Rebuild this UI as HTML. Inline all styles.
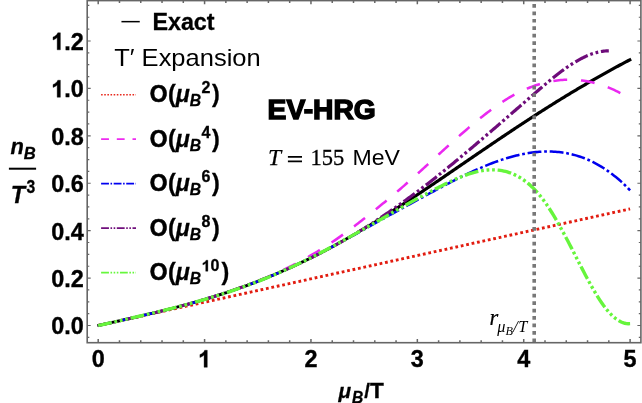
<!DOCTYPE html><html><head><meta charset="utf-8"><title>EV-HRG</title>
<style>html,body{margin:0;padding:0;background:#fff;}svg{display:block;will-change:transform;}text{font-family:"Liberation Sans",sans-serif;}.b{font-weight:bold;}.i{font-style:italic;}.se{font-family:"Liberation Serif",serif;}</style></head><body>
<svg width="642" height="403" viewBox="0 0 642 403">
<rect x="0" y="0" width="642" height="403" fill="#ffffff"/>
<defs><clipPath id="c"><rect x="87.2" y="0.6" width="553.7" height="342.1"/></clipPath></defs>
<g fill="none" stroke-width="3.20" clip-path="url(#c)">
<path d="M97.35 325.69 L98.69 325.39 L100.02 325.10 L101.36 324.81 L102.70 324.51 L104.04 324.22 L105.38 323.93 L106.71 323.63 L108.05 323.34 L109.39 323.04 L110.73 322.75 L112.07 322.45 L113.40 322.16 L114.74 321.86 L116.08 321.57 L117.42 321.27 L118.76 320.97 L120.09 320.68 L121.43 320.38 L122.77 320.08 L124.11 319.78 L125.44 319.48 L126.78 319.18 L128.12 318.88 L129.46 318.58 L130.80 318.27 L132.13 317.97 L133.47 317.66 L134.81 317.36 L136.15 317.05 L137.49 316.75 L138.82 316.44 L140.16 316.13 L141.50 315.82 L142.84 315.51 L144.17 315.19 L145.51 314.88 L146.85 314.57 L148.19 314.25 L149.53 313.93 L150.86 313.61 L152.20 313.29 L153.54 312.97 L154.88 312.65 L156.22 312.33 L157.55 312.00 L158.89 311.67 L160.23 311.35 L161.57 311.02 L162.91 310.68 L164.24 310.35 L165.58 310.02 L166.92 309.68 L168.26 309.34 L169.59 309.00 L170.93 308.66 L172.27 308.32 L173.61 307.97 L174.95 307.62 L176.28 307.28 L177.62 306.93 L178.96 306.57 L180.30 306.22 L181.64 305.86 L182.97 305.50 L184.31 305.14 L185.65 304.78 L186.99 304.41 L188.32 304.05 L189.66 303.68 L191.00 303.30 L192.34 302.93 L193.68 302.55 L195.01 302.18 L196.35 301.79 L197.69 301.41 L199.03 301.03 L200.37 300.64 L201.70 300.25 L203.04 299.85 L204.38 299.46 L205.72 299.06 L207.06 298.66 L208.39 298.26 L209.73 297.85 L211.07 297.44 L212.41 297.03 L213.74 296.62 L215.08 296.20 L216.42 295.78 L217.76 295.36 L219.10 294.93 L220.43 294.50 L221.77 294.07 L223.11 293.64 L224.45 293.20 L225.79 292.76 L227.12 292.32 L228.46 291.88 L229.80 291.43 L231.14 290.98 L232.48 290.52 L233.81 290.06 L235.15 289.60 L236.49 289.14 L237.83 288.67 L239.16 288.20 L240.50 287.73 L241.84 287.25 L243.18 286.77 L244.52 286.29 L245.85 285.80 L247.19 285.31 L248.53 284.82 L249.87 284.32 L251.21 283.82 L252.54 283.31 L253.88 282.81 L255.22 282.30 L256.56 281.78 L257.89 281.27 L259.23 280.75 L260.57 280.22 L261.91 279.69 L263.25 279.16 L264.58 278.63 L265.92 278.09 L267.26 277.55 L268.60 277.00 L269.94 276.45 L271.27 275.90 L272.61 275.34 L273.95 274.78 L275.29 274.22 L276.63 273.65 L277.96 273.08 L279.30 272.51 L280.64 271.93 L281.98 271.35 L283.31 270.76 L284.65 270.17 L285.99 269.58 L287.33 268.98 L288.67 268.38 L290.00 267.78 L291.34 267.17 L292.68 266.56 L294.02 265.95 L295.36 265.33 L296.69 264.70 L298.03 264.08 L299.37 263.45 L300.71 262.81 L302.04 262.18 L303.38 261.53 L304.72 260.89 L306.06 260.24 L307.40 259.59 L308.73 258.93 L310.07 258.27 L311.41 257.61 L312.75 256.94 L314.09 256.27 L315.42 255.59 L316.76 254.91 L318.10 254.23 L319.44 253.55 L320.78 252.86 L322.11 252.16 L323.45 251.47 L324.79 250.77 L326.13 250.06 L327.46 249.35 L328.80 248.64 L330.14 247.93 L331.48 247.21 L332.82 246.49 L334.15 245.76 L335.49 245.03 L336.83 244.30 L338.17 243.56 L339.51 242.82 L340.84 242.08 L342.18 241.33 L343.52 240.58 L344.86 239.83 L346.19 239.07 L347.53 238.31 L348.87 237.55 L350.21 236.78 L351.55 236.01 L352.88 235.24 L354.22 234.46 L355.56 233.68 L356.90 232.90 L358.24 232.11 L359.57 231.33 L360.91 230.53 L362.25 229.74 L363.59 228.94 L364.93 228.14 L366.26 227.33 L367.60 226.53 L368.94 225.72 L370.28 224.90 L371.61 224.09 L372.95 223.27 L374.29 222.45 L375.63 221.62 L376.97 220.79 L378.30 219.97 L379.64 219.13 L380.98 218.30 L382.32 217.46 L383.66 216.62 L384.99 215.78 L386.33 214.93 L387.67 214.08 L389.01 213.23 L390.35 212.38 L391.68 211.53" stroke="#000000" stroke-width="2.9"/>
<path d="M391.68 211.53 L393.02 210.67 L394.36 209.81 L395.70 208.95 L397.03 208.09 L398.37 207.22 L399.71 206.35 L401.05 205.48 L402.39 204.61 L403.72 203.74 L405.06 202.86 L406.40 201.98 L407.74 201.10 L409.08 200.22 L410.41 199.34 L411.75 198.46 L413.09 197.57 L414.43 196.68 L415.76 195.79 L417.10 194.90 L418.44 194.01 L419.78 193.11 L421.12 192.22 L422.45 191.32 L423.79 190.42 L425.13 189.53 L426.47 188.63 L427.81 187.72 L429.14 186.82 L430.48 185.92 L431.82 185.01 L433.16 184.11 L434.50 183.20 L435.83 182.29 L437.17 181.38 L438.51 180.47 L439.85 179.56 L441.18 178.65 L442.52 177.74 L443.86 176.83 L445.20 175.92 L446.54 175.00 L447.87 174.09 L449.21 173.17 L450.55 172.26 L451.89 171.34 L453.23 170.43 L454.56 169.51 L455.90 168.60 L457.24 167.68 L458.58 166.76 L459.91 165.85 L461.25 164.93 L462.59 164.01 L463.93 163.10 L465.27 162.18 L466.60 161.26 L467.94 160.35 L469.28 159.43 L470.62 158.52 L471.96 157.60 L473.29 156.68 L474.63 155.77 L475.97 154.85 L477.31 153.94 L478.65 153.03 L479.98 152.11 L481.32 151.20 L482.66 150.29 L484.00 149.38 L485.33 148.47 L486.67 147.56 L488.01 146.65 L489.35 145.74 L490.69 144.83 L492.02 143.92 L493.36 143.02 L494.70 142.11 L496.04 141.21 L497.38 140.30 L498.71 139.40 L500.05 138.50 L501.39 137.60 L502.73 136.70 L504.07 135.80 L505.40 134.91 L506.74 134.01 L508.08 133.12 L509.42 132.22 L510.75 131.33 L512.09 130.44 L513.43 129.55 L514.77 128.66 L516.11 127.78 L517.44 126.89 L518.78 126.01 L520.12 125.13 L521.46 124.25 L522.80 123.37 L524.13 122.49 L525.47 121.62 L526.81 120.74 L528.15 119.87 L529.48 119.00 L530.82 118.13 L532.16 117.27 L533.50 116.40 L534.84 115.54 L536.17 114.67 L537.51 113.82 L538.85 112.96 L540.19 112.10 L541.53 111.25 L542.86 110.39 L544.20 109.54 L545.54 108.70 L546.88 107.85 L548.22 107.01 L549.55 106.16 L550.89 105.32 L552.23 104.49 L553.57 103.65 L554.90 102.82 L556.24 101.98 L557.58 101.15 L558.92 100.33 L560.26 99.50 L561.59 98.68 L562.93 97.86 L564.27 97.04 L565.61 96.22 L566.95 95.41 L568.28 94.59 L569.62 93.78 L570.96 92.98 L572.30 92.17 L573.63 91.37 L574.97 90.57 L576.31 89.77 L577.65 88.97 L578.99 88.18 L580.32 87.39 L581.66 86.60 L583.00 85.81 L584.34 85.03 L585.68 84.25 L587.01 83.47 L588.35 82.69 L589.69 81.92 L591.03 81.14 L592.37 80.37 L593.70 79.61 L595.04 78.84 L596.38 78.08 L597.72 77.32 L599.05 76.56 L600.39 75.81 L601.73 75.06 L603.07 74.31 L604.41 73.56 L605.74 72.81 L607.08 72.07 L608.42 71.33 L609.76 70.59 L611.10 69.86 L612.43 69.13 L613.77 68.40 L615.11 67.67 L616.45 66.94 L617.78 66.22 L619.12 65.50 L620.46 64.78 L621.80 64.07 L623.14 63.36 L624.47 62.65 L625.81 61.94 L627.15 61.24 L628.49 60.53 L629.83 59.83 L631.16 59.14" stroke="#000000" stroke-width="3.2"/>
<path d="M98.20 325.50 L100.87 324.91 L103.55 324.33 L106.22 323.74 L108.89 323.16 L111.56 322.57 L114.24 321.98 L116.91 321.40 L119.58 320.81 L122.26 320.23 L124.93 319.64 L127.60 319.05 L130.27 318.47 L132.95 317.88 L135.62 317.30 L138.29 316.71 L140.97 316.12 L143.64 315.54 L146.31 314.95 L148.98 314.36 L151.66 313.78 L154.33 313.19 L157.00 312.61 L159.68 312.02 L162.35 311.43 L165.02 310.85 L167.69 310.26 L170.37 309.68 L173.04 309.09 L175.71 308.50 L178.39 307.92 L181.06 307.33 L183.73 306.75 L186.40 306.16 L189.08 305.57 L191.75 304.99 L194.42 304.40 L197.10 303.82 L199.77 303.23 L202.44 302.64 L205.11 302.06 L207.79 301.47 L210.46 300.89 L213.13 300.30 L215.81 299.71 L218.48 299.13 L221.15 298.54 L223.82 297.96 L226.50 297.37 L229.17 296.78 L231.84 296.20 L234.52 295.61 L237.19 295.03 L239.86 294.44 L242.53 293.85 L245.21 293.27 L247.88 292.68 L250.55 292.09 L253.23 291.51 L255.90 290.92 L258.57 290.34 L261.24 289.75 L263.92 289.16 L266.59 288.58 L269.26 287.99 L271.94 287.41 L274.61 286.82 L277.28 286.23 L279.95 285.65 L282.63 285.06 L285.30 284.48 L287.97 283.89 L290.65 283.30 L293.32 282.72 L295.99 282.13 L298.66 281.55 L301.34 280.96 L304.01 280.37 L306.68 279.79 L309.36 279.20 L312.03 278.62 L314.70 278.03 L317.37 277.44 L320.05 276.86 L322.72 276.27 L325.39 275.69 L328.07 275.10 L330.74 274.51 L333.41 273.93 L336.08 273.34 L338.76 272.76 L341.43 272.17 L344.10 271.58 L346.78 271.00 L349.45 270.41 L352.12 269.82 L354.79 269.24 L357.47 268.65 L360.14 268.07 L362.81 267.48 L365.49 266.89 L368.16 266.31 L370.83 265.72 L373.51 265.14 L376.18 264.55 L378.85 263.96 L381.52 263.38 L384.20 262.79 L386.87 262.21 L389.54 261.62 L392.22 261.03 L394.89 260.45 L397.56 259.86 L400.23 259.28 L402.91 258.69 L405.58 258.10 L408.25 257.52 L410.93 256.93 L413.60 256.35 L416.27 255.76 L418.94 255.17 L421.62 254.59 L424.29 254.00 L426.96 253.42 L429.64 252.83 L432.31 252.24 L434.98 251.66 L437.65 251.07 L440.33 250.49 L443.00 249.90 L445.67 249.31 L448.35 248.73 L451.02 248.14 L453.69 247.55 L456.36 246.97 L459.04 246.38 L461.71 245.80 L464.38 245.21 L467.06 244.62 L469.73 244.04 L472.40 243.45 L475.07 242.87 L477.75 242.28 L480.42 241.69 L483.09 241.11 L485.77 240.52 L488.44 239.94 L491.11 239.35 L493.78 238.76 L496.46 238.18 L499.13 237.59 L501.80 237.01 L504.48 236.42 L507.15 235.83 L509.82 235.25 L512.49 234.66 L515.17 234.08 L517.84 233.49 L520.51 232.90 L523.19 232.32 L525.86 231.73 L528.53 231.15 L531.20 230.56 L533.88 229.97 L536.55 229.39 L539.22 228.80 L541.90 228.22 L544.57 227.63 L547.24 227.04 L549.91 226.46 L552.59 225.87 L555.26 225.28 L557.93 224.70 L560.61 224.11 L563.28 223.53 L565.95 222.94 L568.62 222.35 L571.30 221.77 L573.97 221.18 L576.64 220.60 L579.32 220.01 L581.99 219.42 L584.66 218.84 L587.33 218.25 L590.01 217.67 L592.68 217.08 L595.35 216.49 L598.03 215.91 L600.70 215.32 L603.37 214.74 L606.04 214.15 L608.72 213.56 L611.39 212.98 L614.06 212.39 L616.74 211.81 L619.41 211.22 L622.08 210.63 L624.75 210.05 L627.43 209.46 L630.10 208.88" stroke="#e21c10" stroke-width="2.9" stroke-dasharray="2.77 2.77"/>
<path d="M98.20 325.62 L99.98 325.20 L101.76 324.79 L103.54 324.38 L105.32 323.97 L107.09 323.56 L108.87 323.15 L110.65 322.75 L112.43 322.34 L114.21 321.94 L115.99 321.53 L117.77 321.13 L119.55 320.72 L121.33 320.32 L123.11 319.91 L124.88 319.51 L126.66 319.11 L128.44 318.70 L130.22 318.30 L132.00 317.89 L133.78 317.48 L135.56 317.08 L137.34 316.67 L139.12 316.26 L140.89 315.85 L142.67 315.44 L144.45 315.03 L146.23 314.61 L148.01 314.20 L149.79 313.78 L151.57 313.36 L153.35 312.94 L155.13 312.52 L156.90 312.09 L158.68 311.67 L160.46 311.24 L162.24 310.81 L164.02 310.37 L165.80 309.93 L167.58 309.49 L169.36 309.05 L171.14 308.61 L172.92 308.16 L174.69 307.71 L176.47 307.25 L178.25 306.79 L180.03 306.33 L181.81 305.86 L183.59 305.39 L185.37 304.92 L187.15 304.44 L188.93 303.96 L190.70 303.48 L192.48 302.99 L194.26 302.49 L196.04 301.99 L197.82 301.49 L199.60 300.98 L201.38 300.47 L203.16 299.95 L204.94 299.43 L206.71 298.90 L208.49 298.37 L210.27 297.83 L212.05 297.29 L213.83 296.74 L215.61 296.18 L217.39 295.62 L219.17 295.06 L220.95 294.49 L222.73 293.91 L224.50 293.32 L226.28 292.73 L228.06 292.14 L229.84 291.53 L231.62 290.93 L233.40 290.31 L235.18 289.69 L236.96 289.06 L238.74 288.42 L240.51 287.78 L242.29 287.13 L244.07 286.47 L245.85 285.81 L247.63 285.14 L249.41 284.46 L251.19 283.77 L252.97 283.08 L254.75 282.38 L256.52 281.67 L258.30 280.95 L260.08 280.23 L261.86 279.50 L263.64 278.75 L265.42 278.00 L267.20 277.25 L268.98 276.48 L270.76 275.70 L272.54 274.92 L274.31 274.12 L276.09 273.32 L277.87 272.50 L279.65 271.68 L281.43 270.84 L283.21 269.99 L284.99 269.14 L286.77 268.27 L288.55 267.40 L290.32 266.51 L292.10 265.61 L293.88 264.70 L295.66 263.78 L297.44 262.84 L299.22 261.90 L301.00 260.94 L302.78 259.97 L304.56 258.99 L306.33 258.00 L308.11 257.00 L309.89 255.98 L311.67 254.95 L313.45 253.91 L315.23 252.85 L317.01 251.78 L318.79 250.70 L320.57 249.61 L322.35 248.50 L324.12 247.38 L325.90 246.24 L327.68 245.09 L329.46 243.93 L331.24 242.75 L333.02 241.56 L334.80 240.36 L336.58 239.14 L338.36 237.91 L340.13 236.66 L341.91 235.40 L343.69 234.12 L345.47 232.83 L347.25 231.52 L349.03 230.21 L350.81 228.88 L352.59 227.53 L354.37 226.18 L356.14 224.82 L357.92 223.45 L359.70 222.07 L361.48 220.69 L363.26 219.29 L365.04 217.89 L366.82 216.49 L368.60 215.08 L370.38 213.67 L372.16 212.25 L373.93 210.82 L375.71 209.39 L377.49 207.96 L379.27 206.52 L381.05 205.07 L382.83 203.61 L384.61 202.15 L386.39 200.68 L388.17 199.21 L389.94 197.73 L391.72 196.24 L393.50 194.75 L395.28 193.24 L397.06 191.73 L398.84 190.21 L400.62 188.69 L402.40 187.15 L404.18 185.61 L405.95 184.06 L407.73 182.50 L409.51 180.93 L411.29 179.35 L413.07 177.77 L414.85 176.18 L416.63 174.58 L418.41 172.97 L420.19 171.36 L421.97 169.75 L423.74 168.13 L425.52 166.50 L427.30 164.88 L429.08 163.25 L430.86 161.62 L432.64 159.99 L434.42 158.36 L436.20 156.73 L437.98 155.10 L439.75 153.47 L441.53 151.85 L443.31 150.22 L445.09 148.60 L446.87 146.99 L448.65 145.38 L450.43 143.77 L452.21 142.17 L453.99 140.58 L455.76 138.99 L457.54 137.41 L459.32 135.84 L461.10 134.28 L462.88 132.73 L464.66 131.19 L466.44 129.66 L468.22 128.14 L470.00 126.63 L471.78 125.13 L473.55 123.65 L475.33 122.17 L477.11 120.71 L478.89 119.27 L480.67 117.84 L482.45 116.42 L484.23 115.01 L486.01 113.63 L487.79 112.26 L489.56 110.91 L491.34 109.58 L493.12 108.28 L494.90 106.99 L496.68 105.73 L498.46 104.50 L500.24 103.29 L502.02 102.11 L503.80 100.95 L505.57 99.83 L507.35 98.74 L509.13 97.67 L510.91 96.64 L512.69 95.63 L514.47 94.66 L516.25 93.71 L518.03 92.80 L519.81 91.91 L521.59 91.06 L523.36 90.24 L525.14 89.44 L526.92 88.68 L528.70 87.95 L530.48 87.25 L532.26 86.58 L534.04 85.94 L535.82 85.33 L537.60 84.75 L539.37 84.20 L541.15 83.69 L542.93 83.20 L544.71 82.75 L546.49 82.33 L548.27 81.94 L550.05 81.58 L551.83 81.25 L553.61 80.95 L555.38 80.69 L557.16 80.45 L558.94 80.25 L560.72 80.08 L562.50 79.94 L564.28 79.84 L566.06 79.76 L567.84 79.72 L569.62 79.71 L571.40 79.73 L573.17 79.78 L574.95 79.87 L576.73 79.99 L578.51 80.14 L580.29 80.32 L582.07 80.54 L583.85 80.78 L585.63 81.06 L587.41 81.37 L589.18 81.72 L590.96 82.09 L592.74 82.50 L594.52 82.94 L596.30 83.42 L598.08 83.93 L599.86 84.47 L601.64 85.04 L603.42 85.64 L605.19 86.28 L606.97 86.95 L608.75 87.65 L610.53 88.39 L612.31 89.16 L614.09 89.96 L615.87 90.79 L617.65 91.66 L619.43 92.56 L621.21 93.49 L622.98 94.46 L624.76 95.46 L626.54 96.49 L628.32 97.55 L630.10 98.65" stroke="#ea28f0" stroke-width="2.55" stroke-dasharray="13.85 13.85"/>
<path d="M98.20 325.52 L99.98 325.13 L101.76 324.73 L103.54 324.34 L105.32 323.94 L107.09 323.55 L108.87 323.15 L110.65 322.76 L112.43 322.36 L114.21 321.97 L115.99 321.57 L117.77 321.18 L119.55 320.78 L121.33 320.38 L123.11 319.98 L124.88 319.58 L126.66 319.18 L128.44 318.78 L130.22 318.38 L132.00 317.97 L133.78 317.57 L135.56 317.16 L137.34 316.75 L139.12 316.34 L140.89 315.93 L142.67 315.52 L144.45 315.10 L146.23 314.69 L148.01 314.27 L149.79 313.85 L151.57 313.42 L153.35 313.00 L155.13 312.57 L156.90 312.14 L158.68 311.71 L160.46 311.27 L162.24 310.84 L164.02 310.39 L165.80 309.95 L167.58 309.51 L169.36 309.06 L171.14 308.60 L172.92 308.15 L174.69 307.69 L176.47 307.23 L178.25 306.76 L180.03 306.29 L181.81 305.82 L183.59 305.35 L185.37 304.87 L187.15 304.38 L188.93 303.90 L190.70 303.40 L192.48 302.91 L194.26 302.41 L196.04 301.91 L197.82 301.40 L199.60 300.89 L201.38 300.37 L203.16 299.85 L204.94 299.32 L206.71 298.80 L208.49 298.26 L210.27 297.72 L212.05 297.18 L213.83 296.63 L215.61 296.07 L217.39 295.52 L219.17 294.95 L220.95 294.38 L222.73 293.81 L224.50 293.23 L226.28 292.64 L228.06 292.05 L229.84 291.46 L231.62 290.85 L233.40 290.25 L235.18 289.63 L236.96 289.02 L238.74 288.39 L240.51 287.76 L242.29 287.12 L244.07 286.48 L245.85 285.83 L247.63 285.18 L249.41 284.52 L251.19 283.85 L252.97 283.18 L254.75 282.50 L256.52 281.82 L258.30 281.12 L260.08 280.43 L261.86 279.72 L263.64 279.01 L265.42 278.29 L267.20 277.57 L268.98 276.84 L270.76 276.10 L272.54 275.36 L274.31 274.60 L276.09 273.85 L277.87 273.08 L279.65 272.31 L281.43 271.53 L283.21 270.75 L284.99 269.96 L286.77 269.16 L288.55 268.35 L290.32 267.54 L292.10 266.72 L293.88 265.90 L295.66 265.07 L297.44 264.23 L299.22 263.38 L301.00 262.53 L302.78 261.68 L304.56 260.82 L306.33 259.95 L308.11 259.07 L309.89 258.20 L311.67 257.31 L313.45 256.42 L315.23 255.53 L317.01 254.63 L318.79 253.72 L320.57 252.81 L322.35 251.90 L324.12 250.98 L325.90 250.05 L327.68 249.12 L329.46 248.19 L331.24 247.25 L333.02 246.31 L334.80 245.37 L336.58 244.42 L338.36 243.47 L340.13 242.51 L341.91 241.56 L343.69 240.59 L345.47 239.63 L347.25 238.66 L349.03 237.69 L350.81 236.72 L352.59 235.74 L354.37 234.77 L356.14 233.79 L357.92 232.81 L359.70 231.82 L361.48 230.84 L363.26 229.85 L365.04 228.87 L366.82 227.88 L368.60 226.89 L370.38 225.90 L372.16 224.91 L373.93 223.92 L375.71 222.93 L377.49 221.94 L379.27 220.94 L381.05 219.95 L382.83 218.96 L384.61 217.98 L386.39 216.99 L388.17 216.00 L389.94 215.01 L391.72 214.03 L393.50 213.05 L395.28 212.07 L397.06 211.09 L398.84 210.11 L400.62 209.14 L402.40 208.16 L404.18 207.19 L405.95 206.22 L407.73 205.25 L409.51 204.28 L411.29 203.32 L413.07 202.35 L414.85 201.39 L416.63 200.42 L418.41 199.46 L420.19 198.50 L421.97 197.54 L423.74 196.58 L425.52 195.62 L427.30 194.66 L429.08 193.70 L430.86 192.74 L432.64 191.78 L434.42 190.82 L436.20 189.87 L437.98 188.92 L439.75 187.97 L441.53 187.02 L443.31 186.08 L445.09 185.14 L446.87 184.20 L448.65 183.27 L450.43 182.35 L452.21 181.43 L453.99 180.51 L455.76 179.61 L457.54 178.71 L459.32 177.81 L461.10 176.93 L462.88 176.05 L464.66 175.18 L466.44 174.32 L468.22 173.47 L470.00 172.63 L471.78 171.80 L473.55 170.98 L475.33 170.17 L477.11 169.37 L478.89 168.59 L480.67 167.82 L482.45 167.06 L484.23 166.31 L486.01 165.58 L487.79 164.86 L489.56 164.15 L491.34 163.46 L493.12 162.78 L494.90 162.12 L496.68 161.48 L498.46 160.85 L500.24 160.24 L502.02 159.65 L503.80 159.07 L505.57 158.51 L507.35 157.97 L509.13 157.45 L510.91 156.95 L512.69 156.47 L514.47 156.00 L516.25 155.56 L518.03 155.14 L519.81 154.74 L521.59 154.36 L523.36 154.00 L525.14 153.66 L526.92 153.35 L528.70 153.06 L530.48 152.79 L532.26 152.55 L534.04 152.33 L535.82 152.14 L537.60 151.97 L539.37 151.83 L541.15 151.71 L542.93 151.62 L544.71 151.55 L546.49 151.52 L548.27 151.51 L550.05 151.53 L551.83 151.58 L553.61 151.66 L555.38 151.77 L557.16 151.91 L558.94 152.08 L560.72 152.28 L562.50 152.52 L564.28 152.79 L566.06 153.09 L567.84 153.43 L569.62 153.80 L571.40 154.20 L573.17 154.64 L574.95 155.12 L576.73 155.63 L578.51 156.18 L580.29 156.76 L582.07 157.39 L583.85 158.05 L585.63 158.75 L587.41 159.49 L589.18 160.27 L590.96 161.09 L592.74 161.95 L594.52 162.86 L596.30 163.80 L598.08 164.79 L599.86 165.82 L601.64 166.89 L603.42 168.01 L605.19 169.17 L606.97 170.37 L608.75 171.62 L610.53 172.92 L612.31 174.26 L614.09 175.65 L615.87 177.08 L617.65 178.56 L619.43 180.09 L621.21 181.67 L622.98 183.30 L624.76 184.98 L626.54 186.71 L628.32 188.49 L630.10 190.31" stroke="#0000ee" stroke-width="2.55" stroke-dasharray="13.85 2.77 2.77 2.77"/>
<path d="M98.20 325.40 L99.48 325.14 L100.76 324.87 L102.04 324.60 L103.32 324.33 L104.60 324.06 L105.88 323.79 L107.16 323.52 L108.44 323.25 L109.72 322.98 L111.00 322.71 L112.28 322.43 L113.56 322.16 L114.84 321.88 L116.12 321.61 L117.40 321.33 L118.68 321.05 L119.96 320.77 L121.24 320.49 L122.52 320.21 L123.80 319.93 L125.07 319.65 L126.35 319.37 L127.63 319.08 L128.91 318.80 L130.19 318.51 L131.47 318.22 L132.75 317.94 L134.03 317.65 L135.31 317.35 L136.59 317.06 L137.87 316.77 L139.15 316.48 L140.43 316.18 L141.71 315.88 L142.99 315.59 L144.27 315.29 L145.55 314.99 L146.83 314.68 L148.11 314.38 L149.39 314.07 L150.67 313.77 L151.95 313.46 L153.23 313.15 L154.51 312.84 L155.79 312.53 L157.07 312.22 L158.35 311.90 L159.63 311.58 L160.91 311.27 L162.19 310.95 L163.47 310.63 L164.75 310.30 L166.03 309.98 L167.31 309.65 L168.59 309.32 L169.87 308.99 L171.15 308.66 L172.43 308.33 L173.71 307.99 L174.99 307.66 L176.27 307.32 L177.55 306.98 L178.82 306.64 L180.10 306.29 L181.38 305.95 L182.66 305.60 L183.94 305.25 L185.22 304.90 L186.50 304.54 L187.78 304.19 L189.06 303.83 L190.34 303.47 L191.62 303.11 L192.90 302.74 L194.18 302.38 L195.46 302.01 L196.74 301.64 L198.02 301.27 L199.30 300.89 L200.58 300.51 L201.86 300.14 L203.14 299.75 L204.42 299.37 L205.70 298.99 L206.98 298.60 L208.26 298.21 L209.54 297.81 L210.82 297.42 L212.10 297.02 L213.38 296.62 L214.66 296.22 L215.94 295.82 L217.22 295.41 L218.50 295.00 L219.78 294.59 L221.06 294.17 L222.34 293.76 L223.62 293.34 L224.90 292.92 L226.18 292.49 L227.46 292.07 L228.74 291.64 L230.02 291.20 L231.29 290.77 L232.57 290.33 L233.85 289.89 L235.13 289.45 L236.41 289.01 L237.69 288.56 L238.97 288.11 L240.25 287.66 L241.53 287.20 L242.81 286.74 L244.09 286.28 L245.37 285.82 L246.65 285.35 L247.93 284.88 L249.21 284.41 L250.49 283.94 L251.77 283.46 L253.05 282.98 L254.33 282.50 L255.61 282.01 L256.89 281.52 L258.17 281.03 L259.45 280.54 L260.73 280.04 L262.01 279.54 L263.29 279.04 L264.57 278.54 L265.85 278.03 L267.13 277.52 L268.41 277.00 L269.69 276.49 L270.97 275.97 L272.25 275.44 L273.53 274.92 L274.81 274.39 L276.09 273.85 L277.37 273.32 L278.65 272.78 L279.93 272.24 L281.21 271.69 L282.49 271.14 L283.77 270.59 L285.04 270.03 L286.32 269.47 L287.60 268.91 L288.88 268.34 L290.16 267.78 L291.44 267.20 L292.72 266.63 L294.00 266.05 L295.28 265.46 L296.56 264.87 L297.84 264.28 L299.12 263.69 L300.40 263.09 L301.68 262.49 L302.96 261.88 L304.24 261.27 L305.52 260.66 L306.80 260.04 L308.08 259.42 L309.36 258.80 L310.64 258.17 L311.92 257.54 L313.20 256.90 L314.48 256.26 L315.76 255.61 L317.04 254.97 L318.32 254.31 L319.60 253.66 L320.88 253.00 L322.16 252.34 L323.44 251.67 L324.72 251.00 L326.00 250.32 L327.28 249.64 L328.56 248.96 L329.84 248.27 L331.12 247.58 L332.40 246.88 L333.68 246.18 L334.96 245.48 L336.24 244.77 L337.52 244.06 L338.79 243.34 L340.07 242.62 L341.35 241.89 L342.63 241.17 L343.91 240.43 L345.19 239.70 L346.47 238.95 L347.75 238.21 L349.03 237.46 L350.31 236.71 L351.59 235.95 L352.87 235.19 L354.15 234.42 L355.43 233.65 L356.71 232.88 L357.99 232.10 L359.27 231.32 L360.55 230.53 L361.83 229.74 L363.11 228.94 L364.39 228.15 L365.67 227.34 L366.95 226.54 L368.23 225.72 L369.51 224.91 L370.79 224.09 L372.07 223.27 L373.35 222.44 L374.63 221.61 L375.91 220.77" stroke="#6e0c7a" stroke-width="2.9" stroke-dasharray="13.85 2.77 2.77 2.77 2.77 2.77"/>
<path d="M375.91 220.77 L377.19 219.93 L378.47 219.09 L379.75 218.24 L381.03 217.39 L382.31 216.53 L383.59 215.67 L384.87 214.81 L386.15 213.94 L387.43 213.07 L388.71 212.20 L389.99 211.32 L391.26 210.43 L392.54 209.54 L393.82 208.65 L395.10 207.76 L396.38 206.86 L397.66 205.96 L398.94 205.05 L400.22 204.14 L401.50 203.22 L402.78 202.31 L404.06 201.38 L405.34 200.46 L406.62 199.53 L407.90 198.59 L409.18 197.66 L410.46 196.72 L411.74 195.77 L413.02 194.82 L414.30 193.87 L415.58 192.92 L416.86 191.96 L418.14 190.99 L419.42 190.03 L420.70 189.06 L421.98 188.08 L423.26 187.11 L424.54 186.13 L425.82 185.14 L427.10 184.15 L428.38 183.16 L429.66 182.17 L430.94 181.17 L432.22 180.17 L433.50 179.16 L434.78 178.15 L436.06 177.14 L437.34 176.13 L438.62 175.11 L439.90 174.09 L441.18 173.06 L442.46 172.04 L443.74 171.00 L445.01 169.97 L446.29 168.93 L447.57 167.89 L448.85 166.85 L450.13 165.81 L451.41 164.76 L452.69 163.71 L453.97 162.66 L455.25 161.60 L456.53 160.54 L457.81 159.48 L459.09 158.42 L460.37 157.36 L461.65 156.29 L462.93 155.22 L464.21 154.15 L465.49 153.08 L466.77 152.00 L468.05 150.93 L469.33 149.85 L470.61 148.77 L471.89 147.68 L473.17 146.60 L474.45 145.51 L475.73 144.43 L477.01 143.34 L478.29 142.25 L479.57 141.15 L480.85 140.06 L482.13 138.96 L483.41 137.87 L484.69 136.77 L485.97 135.67 L487.25 134.57 L488.53 133.47 L489.81 132.37 L491.09 131.27 L492.37 130.16 L493.65 129.06 L494.93 127.95 L496.21 126.84 L497.48 125.74 L498.76 124.63 L500.04 123.52 L501.32 122.41 L502.60 121.30 L503.88 120.19 L505.16 119.08 L506.44 117.97 L507.72 116.85 L509.00 115.74 L510.28 114.63 L511.56 113.52 L512.84 112.40 L514.12 111.29 L515.40 110.18 L516.68 109.06 L517.96 107.95 L519.24 106.84 L520.52 105.72 L521.80 104.61 L523.08 103.50 L524.36 102.38 L525.64 101.27 L526.92 100.16 L528.20 99.05 L529.48 97.93 L530.76 96.82 L532.04 95.71 L533.32 94.60 L534.60 93.49 L535.88 92.38 L537.16 91.27 L538.44 90.17 L539.72 89.06 L541.00 87.96 L542.28 86.87 L543.56 85.77 L544.84 84.69 L546.12 83.61 L547.40 82.53 L548.68 81.46 L549.96 80.40 L551.23 79.35 L552.51 78.31 L553.79 77.28 L555.07 76.25 L556.35 75.24 L557.63 74.24 L558.91 73.25 L560.19 72.28 L561.47 71.32 L562.75 70.37 L564.03 69.43 L565.31 68.52 L566.59 67.61 L567.87 66.73 L569.15 65.86 L570.43 65.01 L571.71 64.17 L572.99 63.36 L574.27 62.57 L575.55 61.79 L576.83 61.04 L578.11 60.31 L579.39 59.60 L580.67 58.91 L581.95 58.25 L583.23 57.61 L584.51 57.00 L585.79 56.41 L587.07 55.84 L588.35 55.31 L589.63 54.80 L590.91 54.31 L592.19 53.86 L593.47 53.44 L594.75 53.04 L596.03 52.68 L597.31 52.34 L598.59 52.04 L599.87 51.77 L601.15 51.53 L602.43 51.33 L603.70 51.16 L604.98 51.02 L606.26 50.92 L607.54 50.86 L608.82 50.83" stroke="#6e0c7a" stroke-width="3.2" stroke-dasharray="13.85 2.77 2.77 2.77 2.77 2.77" stroke-dashoffset="21.73"/>
<path d="M98.20 325.60 L99.98 325.20 L101.76 324.79 L103.54 324.38 L105.32 323.98 L107.09 323.57 L108.87 323.17 L110.65 322.76 L112.43 322.36 L114.21 321.95 L115.99 321.55 L117.77 321.15 L119.55 320.74 L121.33 320.34 L123.11 319.93 L124.88 319.53 L126.66 319.12 L128.44 318.72 L130.22 318.31 L132.00 317.90 L133.78 317.49 L135.56 317.08 L137.34 316.67 L139.12 316.26 L140.89 315.85 L142.67 315.43 L144.45 315.02 L146.23 314.60 L148.01 314.18 L149.79 313.76 L151.57 313.34 L153.35 312.91 L155.13 312.48 L156.90 312.05 L158.68 311.62 L160.46 311.19 L162.24 310.75 L164.02 310.32 L165.80 309.87 L167.58 309.43 L169.36 308.98 L171.14 308.54 L172.92 308.08 L174.69 307.63 L176.47 307.17 L178.25 306.71 L180.03 306.24 L181.81 305.78 L183.59 305.30 L185.37 304.83 L187.15 304.35 L188.93 303.87 L190.70 303.38 L192.48 302.89 L194.26 302.40 L196.04 301.90 L197.82 301.40 L199.60 300.89 L201.38 300.38 L203.16 299.86 L204.94 299.34 L206.71 298.82 L208.49 298.29 L210.27 297.75 L212.05 297.21 L213.83 296.67 L215.61 296.12 L217.39 295.57 L219.17 295.01 L220.95 294.44 L222.73 293.87 L224.50 293.30 L226.28 292.72 L228.06 292.13 L229.84 291.54 L231.62 290.94 L233.40 290.34 L235.18 289.73 L236.96 289.12 L238.74 288.50 L240.51 287.87 L242.29 287.24 L244.07 286.60 L245.85 285.95 L247.63 285.30 L249.41 284.64 L251.19 283.98 L252.97 283.31 L254.75 282.63 L256.52 281.95 L258.30 281.26 L260.08 280.56 L261.86 279.85 L263.64 279.14 L265.42 278.43 L267.20 277.70 L268.98 276.97 L270.76 276.23 L272.54 275.49 L274.31 274.73 L276.09 273.97 L277.87 273.21 L279.65 272.43 L281.43 271.65 L283.21 270.86 L284.99 270.07 L286.77 269.26 L288.55 268.45 L290.32 267.64 L292.10 266.81 L293.88 265.98 L295.66 265.14 L297.44 264.30 L299.22 263.45 L301.00 262.59 L302.78 261.72 L304.56 260.85 L306.33 259.98 L308.11 259.09 L309.89 258.20 L311.67 257.31 L313.45 256.41 L315.23 255.50 L317.01 254.59 L318.79 253.67 L320.57 252.75 L322.35 251.82 L324.12 250.89 L325.90 249.95 L327.68 249.01 L329.46 248.06 L331.24 247.11 L333.02 246.15 L334.80 245.19 L336.58 244.23 L338.36 243.26 L340.13 242.29 L341.91 241.31 L343.69 240.33 L345.47 239.35 L347.25 238.36 L349.03 237.37 L350.81 236.38 L352.59 235.38 L354.37 234.38 L356.14 233.38 L357.92 232.38 L359.70 231.37 L361.48 230.37 L363.26 229.36 L365.04 228.35 L366.82 227.33 L368.60 226.32 L370.38 225.30 L372.16 224.29 L373.93 223.27 L375.71 222.25 L377.49 221.24 L379.27 220.22 L381.05 219.20 L382.83 218.18 L384.61 217.16 L386.39 216.15 L388.17 215.13 L389.94 214.11 L391.72 213.10 L393.50 212.08 L395.28 211.07 L397.06 210.06 L398.84 209.05 L400.62 208.04 L402.40 207.04 L404.18 206.04 L405.95 205.04 L407.73 204.04 L409.51 203.05 L411.29 202.06 L413.07 201.07 L414.85 200.08 L416.63 199.10 L418.41 198.13 L420.19 197.15 L421.97 196.19 L423.74 195.22 L425.52 194.27 L427.30 193.31 L429.08 192.36 L430.86 191.42 L432.64 190.48 L434.42 189.55 L436.20 188.63 L437.98 187.71 L439.75 186.80 L441.53 185.89 L443.31 184.99 L445.09 184.10 L446.87 183.23 L448.65 182.36 L450.43 181.51 L452.21 180.68 L453.99 179.87 L455.76 179.07 L457.54 178.30 L459.32 177.55 L461.10 176.82 L462.88 176.12 L464.66 175.45 L466.44 174.80 L468.22 174.19 L470.00 173.61 L471.78 173.07 L473.55 172.56 L475.33 172.09 L477.11 171.66 L478.89 171.27 L480.67 170.92 L482.45 170.62 L484.23 170.36 L486.01 170.16 L487.79 170.00 L489.56 169.89 L491.34 169.83 L493.12 169.83 L494.90 169.88 L496.68 169.99 L498.46 170.16 L500.24 170.39 L502.02 170.68 L503.80 171.04 L505.57 171.46 L507.35 171.95 L509.13 172.51 L510.91 173.14 L512.69 173.85 L514.47 174.63 L516.25 175.49 L518.03 176.43 L519.81 177.45 L521.59 178.56 L523.36 179.76 L525.14 181.05 L526.92 182.43 L528.70 183.90 L530.48 185.47 L532.26 187.14 L534.04 188.91 L535.82 190.79 L537.60 192.77 L539.37 194.86 L541.15 197.06 L542.93 199.37 L544.71 201.80 L546.49 204.33 L548.27 206.97 L550.05 209.71 L551.83 212.53 L553.61 215.44 L555.38 218.43 L557.16 221.49 L558.94 224.62 L560.72 227.81 L562.50 231.05 L564.28 234.35 L566.06 237.68 L567.84 241.06 L569.62 244.46 L571.40 247.89 L573.17 251.34 L574.95 254.81 L576.73 258.28 L578.51 261.75 L580.29 265.21 L582.07 268.65 L583.85 272.06 L585.63 275.44 L587.41 278.77 L589.18 282.05 L590.96 285.27 L592.74 288.41 L594.52 291.47 L596.30 294.44 L598.08 297.32 L599.86 300.08 L601.64 302.73 L603.42 305.25 L605.19 307.64 L606.97 309.89 L608.75 311.98 L610.53 313.92 L612.31 315.69 L614.09 317.30 L615.87 318.74 L617.65 320.01 L619.43 321.10 L621.21 322.01 L622.98 322.73 L624.76 323.26 L626.54 323.59 L628.32 323.73 L630.10 323.67" stroke="#66f53c" stroke-width="3.4" stroke-dasharray="13.85 2.77 2.77 2.77 2.77 2.77 2.77 2.77"/>
<line x1="534.2" y1="342.7" x2="534.2" y2="0.6" stroke="#787878" stroke-width="3.6" stroke-dasharray="3.7 3.73" stroke-dashoffset="-0.60"/>
</g>
<rect x="87.20" y="0.60" width="553.70" height="342.10" fill="none" stroke="#666666" stroke-width="1.6"/>
<path d="M98.20 342.70 v-3.70 M98.20 0.60 v3.70 M119.48 342.70 v-2.50 M119.48 0.60 v2.50 M140.75 342.70 v-2.50 M140.75 0.60 v2.50 M162.03 342.70 v-2.50 M162.03 0.60 v2.50 M183.30 342.70 v-2.50 M183.30 0.60 v2.50 M204.58 342.70 v-3.70 M204.58 0.60 v3.70 M225.86 342.70 v-2.50 M225.86 0.60 v2.50 M247.13 342.70 v-2.50 M247.13 0.60 v2.50 M268.41 342.70 v-2.50 M268.41 0.60 v2.50 M289.68 342.70 v-2.50 M289.68 0.60 v2.50 M310.96 342.70 v-3.70 M310.96 0.60 v3.70 M332.24 342.70 v-2.50 M332.24 0.60 v2.50 M353.51 342.70 v-2.50 M353.51 0.60 v2.50 M374.79 342.70 v-2.50 M374.79 0.60 v2.50 M396.06 342.70 v-2.50 M396.06 0.60 v2.50 M417.34 342.70 v-3.70 M417.34 0.60 v3.70 M438.62 342.70 v-2.50 M438.62 0.60 v2.50 M459.89 342.70 v-2.50 M459.89 0.60 v2.50 M481.17 342.70 v-2.50 M481.17 0.60 v2.50 M502.44 342.70 v-2.50 M502.44 0.60 v2.50 M523.72 342.70 v-3.70 M523.72 0.60 v3.70 M545.00 342.70 v-2.50 M545.00 0.60 v2.50 M566.27 342.70 v-2.50 M566.27 0.60 v2.50 M587.55 342.70 v-2.50 M587.55 0.60 v2.50 M608.82 342.70 v-2.50 M608.82 0.60 v2.50 M630.10 342.70 v-3.70 M630.10 0.60 v3.70" stroke="#666666" stroke-width="1.5" fill="none"/>
<path d="M87.20 337.36 h2.10 M640.90 337.36 h-2.10 M87.20 325.50 h3.50 M640.90 325.50 h-3.50 M87.20 313.64 h2.10 M640.90 313.64 h-2.10 M87.20 301.79 h2.10 M640.90 301.79 h-2.10 M87.20 289.94 h2.10 M640.90 289.94 h-2.10 M87.20 278.08 h3.50 M640.90 278.08 h-3.50 M87.20 266.23 h2.10 M640.90 266.23 h-2.10 M87.20 254.37 h2.10 M640.90 254.37 h-2.10 M87.20 242.51 h2.10 M640.90 242.51 h-2.10 M87.20 230.66 h3.50 M640.90 230.66 h-3.50 M87.20 218.81 h2.10 M640.90 218.81 h-2.10 M87.20 206.95 h2.10 M640.90 206.95 h-2.10 M87.20 195.09 h2.10 M640.90 195.09 h-2.10 M87.20 183.24 h3.50 M640.90 183.24 h-3.50 M87.20 171.38 h2.10 M640.90 171.38 h-2.10 M87.20 159.53 h2.10 M640.90 159.53 h-2.10 M87.20 147.68 h2.10 M640.90 147.68 h-2.10 M87.20 135.82 h3.50 M640.90 135.82 h-3.50 M87.20 123.96 h2.10 M640.90 123.96 h-2.10 M87.20 112.11 h2.10 M640.90 112.11 h-2.10 M87.20 100.25 h2.10 M640.90 100.25 h-2.10 M87.20 88.40 h3.50 M640.90 88.40 h-3.50 M87.20 76.54 h2.10 M640.90 76.54 h-2.10 M87.20 64.69 h2.10 M640.90 64.69 h-2.10 M87.20 52.83 h2.10 M640.90 52.83 h-2.10 M87.20 40.98 h3.50 M640.90 40.98 h-3.50 M87.20 29.12 h2.10 M640.90 29.12 h-2.10 M87.20 17.27 h2.10 M640.90 17.27 h-2.10 M87.20 5.41 h2.10 M640.90 5.41 h-2.10" stroke="#666666" stroke-width="1.2" fill="none"/>
<text class="b" font-size="23.40" transform="translate(0,367.30) scale(1,1.050)" stroke="#000" stroke-width="0.35"><tspan x="91.69" y="0.00">0</tspan></text>
<path d="M806 0H525V1059Q371 915 162 846V1101Q272 1137 401 1237.5T578 1472H806Z" transform="translate(198.07,367.30) scale(0.01143,-0.01158)" fill="#000" stroke="#000" stroke-width="30.6"/>
<text class="b" font-size="23.40" transform="translate(0,367.30) scale(1,1.050)" stroke="#000" stroke-width="0.35"><tspan x="304.45" y="0.00">2</tspan></text>
<text class="b" font-size="23.40" transform="translate(0,367.30) scale(1,1.050)" stroke="#000" stroke-width="0.35"><tspan x="410.83" y="0.00">3</tspan></text>
<text class="b" font-size="23.40" transform="translate(0,367.30) scale(1,1.050)" stroke="#000" stroke-width="0.35"><tspan x="517.21" y="0.00">4</tspan></text>
<text class="b" font-size="23.40" transform="translate(0,367.30) scale(1,1.050)" stroke="#000" stroke-width="0.35"><tspan x="623.59" y="0.00">5</tspan></text>
<text class="b" font-size="23.40" transform="translate(0,334.35) scale(1,1.050)" stroke="#000" stroke-width="0.35"><tspan x="51.17" y="0.00">0</tspan><tspan x="64.18" y="0.00">.</tspan><tspan x="70.69" y="0.00">0</tspan></text>
<text class="b" font-size="23.40" transform="translate(0,286.93) scale(1,1.050)" stroke="#000" stroke-width="0.35"><tspan x="51.17" y="0.00">0</tspan><tspan x="64.18" y="0.00">.</tspan><tspan x="70.69" y="0.00">2</tspan></text>
<text class="b" font-size="23.40" transform="translate(0,239.51) scale(1,1.050)" stroke="#000" stroke-width="0.35"><tspan x="51.17" y="0.00">0</tspan><tspan x="64.18" y="0.00">.</tspan><tspan x="70.69" y="0.00">4</tspan></text>
<text class="b" font-size="23.40" transform="translate(0,192.09) scale(1,1.050)" stroke="#000" stroke-width="0.35"><tspan x="51.17" y="0.00">0</tspan><tspan x="64.18" y="0.00">.</tspan><tspan x="70.69" y="0.00">6</tspan></text>
<text class="b" font-size="23.40" transform="translate(0,144.67) scale(1,1.050)" stroke="#000" stroke-width="0.35"><tspan x="51.17" y="0.00">0</tspan><tspan x="64.18" y="0.00">.</tspan><tspan x="70.69" y="0.00">8</tspan></text>
<path d="M806 0H525V1059Q371 915 162 846V1101Q272 1137 401 1237.5T578 1472H806Z" transform="translate(51.17,97.25) scale(0.01143,-0.01158)" fill="#000" stroke="#000" stroke-width="30.6"/>
<text class="b" font-size="23.40" transform="translate(0,97.25) scale(1,1.050)" stroke="#000" stroke-width="0.35"><tspan x="64.18" y="0.00">.</tspan><tspan x="70.69" y="0.00">0</tspan></text>
<path d="M806 0H525V1059Q371 915 162 846V1101Q272 1137 401 1237.5T578 1472H806Z" transform="translate(51.17,49.83) scale(0.01143,-0.01158)" fill="#000" stroke="#000" stroke-width="30.6"/>
<text class="b" font-size="23.40" transform="translate(0,49.83) scale(1,1.050)" stroke="#000" stroke-width="0.35"><tspan x="64.18" y="0.00">.</tspan><tspan x="70.69" y="0.00">2</tspan></text>
<text class="b" font-size="22.60" transform="translate(0,398.20) scale(1,1.000)" stroke="#000" stroke-width="0.3"><tspan x="338.60" y="0.00" font-size="20.80" class="b i">μ</tspan><tspan x="352.00" y="4.60" font-size="15.60" class="b i">B</tspan><tspan x="364.20" y="0.00" font-size="20.50" class="b">/</tspan><tspan x="370.00" y="0.00" class="b">T</tspan></text>
<text class="b" font-size="23.30" transform="translate(0,153.60) scale(1,1.000)" stroke="#000" stroke-width="0.3"><tspan x="10.40" y="0.00" font-size="21.80" class="b i">n</tspan><tspan x="23.80" y="4.90" font-size="16.60" class="b i">B</tspan></text>
<rect x="8.9" y="167.7" width="27.2" height="2" fill="#000"/>
<text class="b" font-size="23.30" transform="translate(0,203.00) scale(1,1.000)" stroke="#000" stroke-width="0.3"><tspan x="10.80" y="0.00" class="b i">T</tspan></text>
<text class="b" font-size="15.60" transform="translate(0,193.20) scale(1,1.130)" stroke="#000" stroke-width="0.3"><tspan x="26.60" y="0.00" class="b">3</tspan></text>
<line x1="121.45" y1="21.65" x2="139.75" y2="21.65" stroke="#000" stroke-width="1.5"/>
<text class="b" font-size="23.30" transform="translate(0,29.90) scale(1,1.000)" stroke="#000" stroke-width="0.3"><tspan x="152.40" y="0.00">Exact</tspan></text>
<text x="114.2" y="65.7" font-size="23.2" textLength="146.5" lengthAdjust="spacingAndGlyphs">T′ Expansion</text>
<line x1="101.1" y1="94.70" x2="136.0" y2="94.70" stroke="#e8281c" stroke-width="1.6" stroke-dasharray="1.57 1.57"/>
<text class="b" x="149.7" y="102.40" font-size="23.30" textLength="17.7" lengthAdjust="spacingAndGlyphs" stroke="#000" stroke-width="0.6">O</text>
<text class="b" font-size="23.30" transform="translate(0,102.40) scale(1,1.000)" stroke="#000" stroke-width="0.3"><tspan x="168.00" y="0.00">(</tspan><tspan x="175.80" y="0.00" class="b i">μ</tspan><tspan x="189.80" y="3.90" font-size="15.70" class="b i">B</tspan><tspan x="201.60" y="-9.00" font-size="16.00" class="b">2</tspan><tspan x="212.00" y="0.00" class="b">)</tspan></text>
<line x1="101.1" y1="139.17" x2="136.0" y2="139.17" stroke="#ee2af0" stroke-width="1.6" stroke-dasharray="7.85 7.85"/>
<text class="b" x="149.7" y="146.87" font-size="23.30" textLength="17.7" lengthAdjust="spacingAndGlyphs" stroke="#000" stroke-width="0.6">O</text>
<text class="b" font-size="23.30" transform="translate(0,146.87) scale(1,1.000)" stroke="#000" stroke-width="0.3"><tspan x="168.00" y="0.00">(</tspan><tspan x="175.80" y="0.00" class="b i">μ</tspan><tspan x="189.80" y="3.90" font-size="15.70" class="b i">B</tspan><tspan x="201.60" y="-9.00" font-size="16.00" class="b">4</tspan><tspan x="212.00" y="0.00" class="b">)</tspan></text>
<line x1="101.1" y1="183.64" x2="136.0" y2="183.64" stroke="#0000f0" stroke-width="1.6" stroke-dasharray="7.85 1.57 1.57 1.57"/>
<text class="b" x="149.7" y="191.34" font-size="23.30" textLength="17.7" lengthAdjust="spacingAndGlyphs" stroke="#000" stroke-width="0.6">O</text>
<text class="b" font-size="23.30" transform="translate(0,191.34) scale(1,1.000)" stroke="#000" stroke-width="0.3"><tspan x="168.00" y="0.00">(</tspan><tspan x="175.80" y="0.00" class="b i">μ</tspan><tspan x="189.80" y="3.90" font-size="15.70" class="b i">B</tspan><tspan x="201.60" y="-9.00" font-size="16.00" class="b">6</tspan><tspan x="212.00" y="0.00" class="b">)</tspan></text>
<line x1="101.1" y1="228.11" x2="136.0" y2="228.11" stroke="#700f7c" stroke-width="1.6" stroke-dasharray="7.85 1.57 1.57 1.57 1.57 1.57"/>
<text class="b" x="149.7" y="235.81" font-size="23.30" textLength="17.7" lengthAdjust="spacingAndGlyphs" stroke="#000" stroke-width="0.6">O</text>
<text class="b" font-size="23.30" transform="translate(0,235.81) scale(1,1.000)" stroke="#000" stroke-width="0.3"><tspan x="168.00" y="0.00">(</tspan><tspan x="175.80" y="0.00" class="b i">μ</tspan><tspan x="189.80" y="3.90" font-size="15.70" class="b i">B</tspan><tspan x="201.60" y="-9.00" font-size="16.00" class="b">8</tspan><tspan x="212.00" y="0.00" class="b">)</tspan></text>
<line x1="101.1" y1="272.58" x2="136.0" y2="272.58" stroke="#66f73c" stroke-width="1.6" stroke-dasharray="7.85 1.57 1.57 1.57 1.57 1.57 1.57 1.57"/>
<text class="b" x="149.7" y="280.28" font-size="23.30" textLength="17.7" lengthAdjust="spacingAndGlyphs" stroke="#000" stroke-width="0.6">O</text>
<path d="M806 0H525V1059Q371 915 162 846V1101Q272 1137 401 1237.5T578 1472H806Z" transform="translate(201.60,271.28) scale(0.00781,-0.00754)" fill="#000" stroke="#000" stroke-width="38.4"/>
<text class="b" font-size="23.30" transform="translate(0,280.28) scale(1,1.000)" stroke="#000" stroke-width="0.3"><tspan x="168.00" y="0.00">(</tspan><tspan x="175.80" y="0.00" class="b i">μ</tspan><tspan x="189.80" y="3.90" font-size="15.70" class="b i">B</tspan><tspan x="210.50" y="-9.00" font-size="16.00" class="b">0</tspan><tspan x="221.60" y="0.00" class="b">)</tspan></text>
<text class="b" x="267.6" y="118.8" font-size="27" textLength="108.2" lengthAdjust="spacingAndGlyphs" stroke="#000" stroke-width="1.4" stroke-linejoin="miter">EV-HRG</text>
<text class="se i" x="268" y="164.9" font-size="23.5" stroke="#000" stroke-width="0.25">T</text>
<path d="M287.9 156.9h14.1M287.9 161.4h14.1" stroke="#000" stroke-width="1.6" fill="none"/>
<text class="se" x="310.5" y="164.9" font-size="22.5" stroke="#000" stroke-width="0.3">155</text>
<text x="352.5" y="164.6" font-size="21.5" textLength="47.5" lengthAdjust="spacingAndGlyphs">MeV</text>
<text class="se i" x="489.5" y="324.9" font-size="22.5" stroke="#000" stroke-width="0.2">r</text>
<text class="se i" y="331.7" font-size="16.3"><tspan x="497.3">μ</tspan><tspan x="505.6" font-size="12.3" dy="3.0">B</tspan><tspan x="513.3" dy="-3.0">/</tspan><tspan x="518.2">T</tspan></text>
</svg></body></html>
